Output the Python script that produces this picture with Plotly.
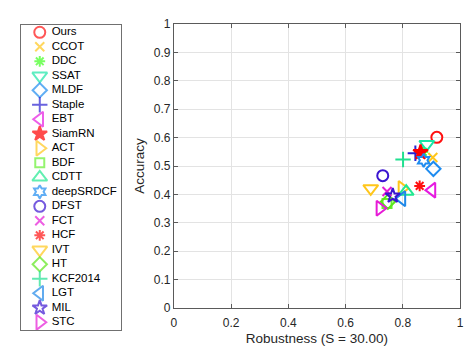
import plotly.graph_objects as go

trackers = ["Ours", "CCOT", "DDC", "SSAT", "MLDF", "Staple", "EBT", "SiamRN", "ACT", "BDF",
            "CDTT", "deepSRDCF", "DFST", "FCT", "HCF", "IVT", "HT", "KCF2014", "LGT", "MIL", "STC"]
robustness = [0.919, 0.905, 0.870, 0.884, 0.907, 0.844, 0.902, 0.862, 0.797, 0.745,
              0.812, 0.873, 0.730, 0.745, 0.859, 0.688, 0.748, 0.801, 0.797, 0.765, 0.720]
accuracy = [0.601, 0.530, 0.550, 0.577, 0.490, 0.545, 0.415, 0.548, 0.421, 0.368,
            0.410, 0.520, 0.466, 0.410, 0.430, 0.421, 0.374, 0.523, 0.385, 0.395, 0.351]
symbols = ["circle-open", "x-thin-open", "asterisk-open", "triangle-down-open", "diamond-open",
           "cross-thin-open", "triangle-left-open", "star", "triangle-right-open", "square-open",
           "triangle-up-open", "hexagram-open", "circle-open", "x-thin-open", "asterisk-open",
           "triangle-down-open", "diamond-open", "cross-thin-open", "triangle-left-open",
           "star-open", "triangle-right-open"]
colors = ["#FF1010", "#FFC61A", "#40FF20", "#1AE6A6", "#1E8CF0", "#2A20D0", "#E61AE0", "#FF0000",
          "#FFC61A", "#66F030", "#20E890", "#1E8CF0", "#3A14D0", "#E61AD6", "#FF1010", "#FFC61A",
          "#5CE61A", "#20E090", "#1E88E8", "#3A14D0", "#E61AD6"]
sizes = [11, 9, 9, 13, 11, 11, 13, 11, 13, 9, 13, 10, 11, 9, 9, 13, 11, 11, 13, 11, 13]

x_ticks = [0, 0.2, 0.4, 0.6, 0.8, 1]
x_ticklabels = ["0", "0.2", "0.4", "0.6", "0.8", "1"]
y_ticks = [0, 0.1, 0.2, 0.3, 0.4, 0.5, 0.6, 0.7, 0.8, 0.9, 1]
y_ticklabels = ["0", "0.1", "0.2", "0.3", "0.4", "0.5", "0.6", "0.7", "0.8", "0.9", "1"]

FONT = "Liberation Sans, Arial, sans-serif"
fig = go.Figure()

for i, name in enumerate(trackers):
    fig.add_trace(go.Scatter(
        x=[robustness[i]], y=[accuracy[i]], mode="markers", name=name, showlegend=False,
        marker=dict(symbol=symbols[i], size=sizes[i], color=colors[i],
                    line=dict(width=2, color=colors[i])),
        xaxis="x", yaxis="y"))

# manual legend
idx = list(range(len(trackers)))
fig.add_trace(go.Scatter(
    x=[19] * len(trackers), y=idx, mode="markers", showlegend=False, hoverinfo="skip",
    marker=dict(symbol=symbols, size=sizes, color=colors,
                line=dict(width=2, color=colors)),
    xaxis="x2", yaxis="y2"))
fig.add_trace(go.Scatter(
    x=[31] * len(trackers), y=idx, mode="text", text=trackers, showlegend=False,
    textposition="middle right", hoverinfo="skip",
    textfont=dict(family=FONT, size=11.5, color="#000000"),
    xaxis="x2", yaxis="y2"))

axis_common = dict(showgrid=True, gridcolor="#E3E3E3", gridwidth=1, zeroline=False,
                   showline=True, linecolor="#5A5A5A", linewidth=1, mirror="ticks",
                   ticks="inside", ticklen=4, tickcolor="#5A5A5A",
                   tickfont=dict(family=FONT, size=12, color="#262626"))

fig.update_layout(
    width=474, height=348,
    margin=dict(l=0, r=14, t=24, b=18),
    paper_bgcolor="white", plot_bgcolor="white",
    xaxis=dict(domain=[172 / 460, 1], range=[0, 1], tickvals=x_ticks, ticktext=x_ticklabels,
               ticklabelstandoff=4,
               title=dict(text="Robustness (S = 30.00)", font=dict(family=FONT, size=13.5, color="#262626"),
                          standoff=4),
               anchor="y", **axis_common),
    yaxis=dict(domain=[22 / 306, 1], range=[0, 1], tickvals=y_ticks, ticktext=y_ticklabels,
               title=dict(text="Accuracy", font=dict(family=FONT, size=13.5, color="#262626"),
                          standoff=6),
               anchor="x", **axis_common),
    xaxis2=dict(domain=[18 / 460, 119 / 460], range=[0, 101], showgrid=False, zeroline=False,
                showticklabels=False, ticks="", showline=True, linecolor="#707070", mirror=True,
                anchor="y2", fixedrange=True),
    yaxis2=dict(domain=[0, 305 / 306], range=[20.53, -0.503], showgrid=False, zeroline=False,
                showticklabels=False, ticks="", showline=True, linecolor="#707070", mirror=True,
                anchor="x2", fixedrange=True),
)

fig.write_html("out.html")
